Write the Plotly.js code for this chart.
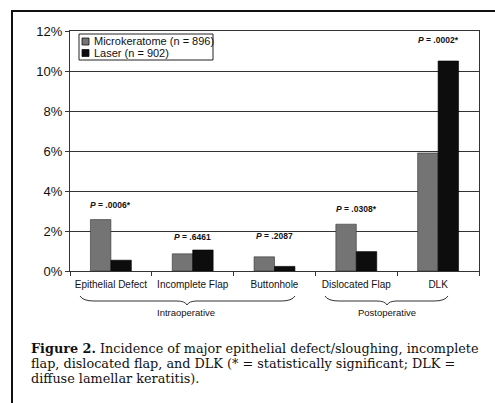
<!DOCTYPE html>
<html>
<head>
<meta charset="utf-8">
<script src="https://cdn.plot.ly/plotly-3.0.1.min.js"></script>
<style>
html,body{margin:0;padding:0;background:#fff;}
#chart{width:495px;height:403px;}
</style>
</head>
<body>
<div id="chart"></div>
<script>
// ---- data ----
var categories = ["Epithelial Defect", "Incomplete Flap", "Buttonhole", "Dislocated Flap", "DLK"];
var microkeratome = [2.57, 0.86, 0.71, 2.34, 5.9];
var laser = [0.54, 1.05, 0.23, 0.97, 10.5];
var seriesNames = ["Microkeratome (n = 896)", "Laser (n = 902)"];
var pValues = ["P = .0006*", "P = .6461", "P = .2087", "P = .0308*", "P = .0002*"];
var groupLabels = ["Intraoperative", "Postoperative"];
var yTicks = [0, 2, 4, 6, 8, 10, 12];
var yTickLabels = ["0%", "2%", "4%", "6%", "8%", "10%", "12%"];
var captionLines = [
  "<b>Figure 2.</b> Incidence of major epithelial defect/sloughing, incomplete",
  "flap, dislocated flap, and DLK (* = statistically significant; DLK =",
  "diffuse lamellar keratitis)."
];

// ---- geometry helpers (pixel -> paper) ----
var W = 495, H = 403;
var mL = 70, mR = 16, mT = 31, mB = 132;
var pw = W - mL - mR, ph = H - mT - mB;
function px(x){ return (x - mL) / pw; }
function py(y){ return (H - mB - y) / ph; }

var colors = ["#747474", "#0d0d0d"];
var sans = "Arial, Liberation Sans, sans-serif";

var traces = [
  {type:"bar", name: seriesNames[0], x: categories, y: microkeratome,
   marker:{color: colors[0], line:{color:"#333", width:0.6}}, showlegend:false, hoverinfo:"y"},
  {type:"bar", name: seriesNames[1], x: categories, y: laser,
   marker:{color: colors[1], line:{color:"#000", width:0.6}}, showlegend:false, hoverinfo:"y"}
];

var ann = [];
var shapes = [];
var pShift = [8, 6, 14, 8, 14];
for (var i = 0; i < categories.length; i++) {
  var parts = pValues[i].split(" = ");
  ann.push({x: categories[i], y: Math.max(microkeratome[i], laser[i]), xref:"x", yref:"y",
    text: "<b><i>" + parts[0] + "</i> = " + parts[1] + "</b>",
    showarrow:false, xanchor:"center", yanchor:"bottom", yshift: pShift[i],
    font:{family:sans, size:8.5, color:"#111"}});
}

// custom legend (box, swatches, labels)
shapes.push({type:"rect", xref:"paper", yref:"paper", x0:px(79), x1:px(213), y0:py(60), y1:py(34),
  line:{color:"#222", width:1}, fillcolor:"#fff", layer:"above"});
for (var k = 0; k < 2; k++) {
  var cy = 41.5 + k * 11.5;
  shapes.push({type:"rect", xref:"paper", yref:"paper", x0:px(82), x1:px(89), y0:py(cy+3.5), y1:py(cy-3.5),
    line:{color:"#111", width:0.8}, fillcolor: colors[k], layer:"above"});
  ann.push({xref:"paper", yref:"paper", x:px(92), y:py(cy), xanchor:"left", yanchor:"middle",
    text: seriesNames[k], showarrow:false,
    font:{family:sans, size:11, color:"#111"}});
}

// braces
function bracePath(x0, xm, x1, yt, yf, yp){
  return "M" + px(x0) + "," + py(yt) +
    " Q" + px(x0+3) + "," + py(yf) + " " + px(x0+14) + "," + py(yf) +
    " L" + px(xm-10) + "," + py(yf) +
    " Q" + px(xm-2) + "," + py(yf) + " " + px(xm) + "," + py(yp) +
    " Q" + px(xm+2) + "," + py(yf) + " " + px(xm+10) + "," + py(yf) +
    " L" + px(x1-14) + "," + py(yf) +
    " Q" + px(x1-3) + "," + py(yf) + " " + px(x1) + "," + py(yt);
}
shapes.push({type:"path", xref:"paper", yref:"paper", path: bracePath(80, 187, 295, 296, 301, 305),
  line:{color:"#333", width:1}});
shapes.push({type:"path", xref:"paper", yref:"paper", path: bracePath(325, 387, 448, 296, 301, 305),
  line:{color:"#333", width:1}});
ann.push({xref:"paper", yref:"paper", x:px(186), y:py(312.5), xanchor:"center", yanchor:"middle",
  text: groupLabels[0], showarrow:false, font:{family:sans, size:9.5, color:"#111"}});
ann.push({xref:"paper", yref:"paper", x:px(387), y:py(312.5), xanchor:"center", yanchor:"middle",
  text: groupLabels[1], showarrow:false, font:{family:sans, size:9.5, color:"#111"}});

// caption
for (var c = 0; c < captionLines.length; c++) {
  ann.push({xref:"paper", yref:"paper", x:px(29), y:py(348 + c*15.1), xanchor:"left", yanchor:"middle",
    text: captionLines[c], showarrow:false,
    font:{family:"DejaVu Serif, serif", size:12.8, color:"#111"}});
}

// outer frame (left + top)
shapes.push({type:"path", xref:"paper", yref:"paper",
  path: "M" + px(12) + "," + py(405) + " L" + px(12) + "," + py(11) + " L" + px(497) + "," + py(11),
  line:{color:"#111", width:2}});

var layout = {
  width: W, height: H,
  margin:{l:mL, r:mR, t:mT, b:mB, pad:0},
  paper_bgcolor:"#fff", plot_bgcolor:"#fff",
  barmode:"group", bargap:0.5, bargroupgap:0,
  showlegend:false,
  font:{family:sans, color:"#111"},
  xaxis:{type:"category", showline:true, mirror:true, linecolor:"#333", linewidth:1,
    ticks:"outside", tickson:"boundaries", ticklen:4, tickcolor:"#333",
    ticklabelstandoff:4,
    tickfont:{size:10, color:"#111"}, showgrid:false, zeroline:false},
  yaxis:{range:[0,12], tickvals:yTicks, ticktext:yTickLabels, showline:true, mirror:true,
    linecolor:"#333", linewidth:1, ticks:"outside", ticklen:4, tickcolor:"#333",
    showgrid:true, gridcolor:"#333", gridwidth:1, zeroline:false,
    tickfont:{size:13, color:"#111"}},
  annotations: ann,
  shapes: shapes
};

Plotly.newPlot("chart", traces, layout, {displayModeBar:false, staticPlot:true});
</script>
</body>
</html>
